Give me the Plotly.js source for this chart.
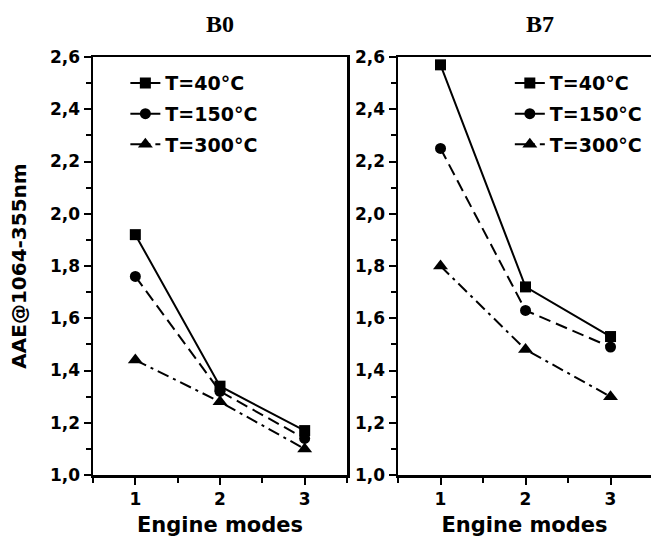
<!DOCTYPE html>
<html>
<head>
<meta charset="utf-8">
<script src="https://cdn.plot.ly/plotly-3.0.1.min.js"></script>
<style>html,body{margin:0;padding:0;background:#fff;}#chart{width:651px;height:537px;}</style>
</head>
<body>
<div id="chart"></div>
<script>
// Data
const modes = [1, 2, 3];
const seriesNames = ["T=40°C", "T=150°C", "T=300°C"];
const b0_T40 = [1.92, 1.34, 1.17];
const b0_T150 = [1.76, 1.32, 1.14];
const b0_T300 = [1.44, 1.28, 1.10];
const b7_T40 = [2.57, 1.72, 1.53];
const b7_T150 = [2.25, 1.63, 1.49];
const b7_T300 = [1.80, 1.48, 1.30];
const panelTitles = ["B0", "B7"];
const yTitle = "AAE@1064-355nm";
const xTitle = "Engine modes";

const FONT = "DejaVu Sans, Arial, sans-serif";
const styles = [
  {dash: "solid", symbol: "square", size: 11},
  {dash: "12px,6px", symbol: "circle", size: 11},
  {dash: "12px,5px,3px,5px", symbol: "triangle-up", size: 13}
];

function mk(y, i, xa, ya, leg) {
  return {
    x: modes, y: y, type: "scatter", mode: "lines+markers",
    name: seriesNames[i], xaxis: xa, yaxis: ya, legend: leg,
    legendgroup: leg + i,
    line: {color: "#000", width: 2, dash: styles[i].dash},
    marker: {color: "#000", symbol: styles[i].symbol, size: styles[i].size},
    cliponaxis: false
  };
}

const data = [
  mk(b0_T40, 0, "x", "y", "legend"),
  mk(b0_T150, 1, "x", "y", "legend"),
  mk(b0_T300, 2, "x", "y", "legend"),
  mk(b7_T40, 0, "x2", "y2", "legend2"),
  mk(b7_T150, 1, "x2", "y2", "legend2"),
  mk(b7_T300, 2, "x2", "y2", "legend2")
];

function xax(domain, range, anchor) {
  return {
    domain: domain, range: range, anchor: anchor,
    tickvals: modes, ticktext: modes.map(String),
    showline: true, linewidth: 2.5, linecolor: "#000", mirror: true,
    ticks: "outside", ticklen: 7, tickwidth: 2, tickcolor: "#000",
    minor: {ticks: "outside", ticklen: 5, tickwidth: 2, tickcolor: "#000", dtick: 0.5, tick0: 0.5, showgrid: false},
    showgrid: false, zeroline: false,
    tickfont: {family: FONT, size: 17, color: "#000", weight: "bold"},
    title: {text: xTitle, font: {family: FONT, size: 21, color: "#000", weight: "bold"}, standoff: 12},
    automargin: false, fixedrange: true
  };
}
function yax(domain, anchor, mirror, withTitle) {
  const a = {
    domain: domain, range: [1.0, 2.6], anchor: anchor,
    dtick: 0.2, tick0: 1.0, tickformat: ".1f",
    showline: true, linewidth: 2.5, linecolor: "#000", mirror: mirror,
    ticks: "outside", ticklen: 7, tickwidth: 2, tickcolor: "#000",
    minor: {ticks: "outside", ticklen: 5, tickwidth: 2, tickcolor: "#000", dtick: 0.1, showgrid: false},
    showgrid: false, zeroline: false,
    tickfont: {family: FONT, size: 17, color: "#000", weight: "bold"},
    automargin: false, fixedrange: true
  };
  if (withTitle) a.title = {text: yTitle, font: {family: FONT, size: 20, color: "#000", weight: "bold"}, standoff: 18};
  return a;
}

const legendBase = {
  bgcolor: "rgba(0,0,0,0)", borderwidth: 0,
  font: {family: FONT, size: 19, color: "#000", weight: "bold"},
  xanchor: "left", yanchor: "top", tracegroupgap: 3,
  itemclick: false, itemdoubleclick: false
};

const layout = {
  width: 651, height: 537,
  margin: {l: 93, r: 0, t: 57, b: 62},
  paper_bgcolor: "#fff", plot_bgcolor: "#fff",
  separators: ",.",
  showlegend: true,
  xaxis: xax([0, 0.4552], [0.5, 3.5], "y"),
  yaxis: yax([0, 1], "x", true, true),
  xaxis2: xax([0.5466, 1], [0.5, 3.476], "y2"),
  yaxis2: yax([0, 1], "x2", false, false),
  legend: Object.assign({}, legendBase, {x: 0.058, y: 0.983}),
  legend2: Object.assign({}, legendBase, {x: 0.747, y: 0.983}),
  annotations: [
    {text: panelTitles[0], xref: "paper", yref: "paper", x: 0.2276, y: 1.08, xanchor: "center", yanchor: "middle", showarrow: false,
     font: {family: "Liberation Serif, Times New Roman, serif", size: 24, color: "#000", weight: "bold"}},
    {text: panelTitles[1], xref: "paper", yref: "paper", x: 0.801, y: 1.08, xanchor: "center", yanchor: "middle", showarrow: false,
     font: {family: "Liberation Serif, Times New Roman, serif", size: 24, color: "#000", weight: "bold"}}
  ]
};

Plotly.newPlot("chart", data, layout, {displayModeBar: false, staticPlot: true});
</script>
</body>
</html>
